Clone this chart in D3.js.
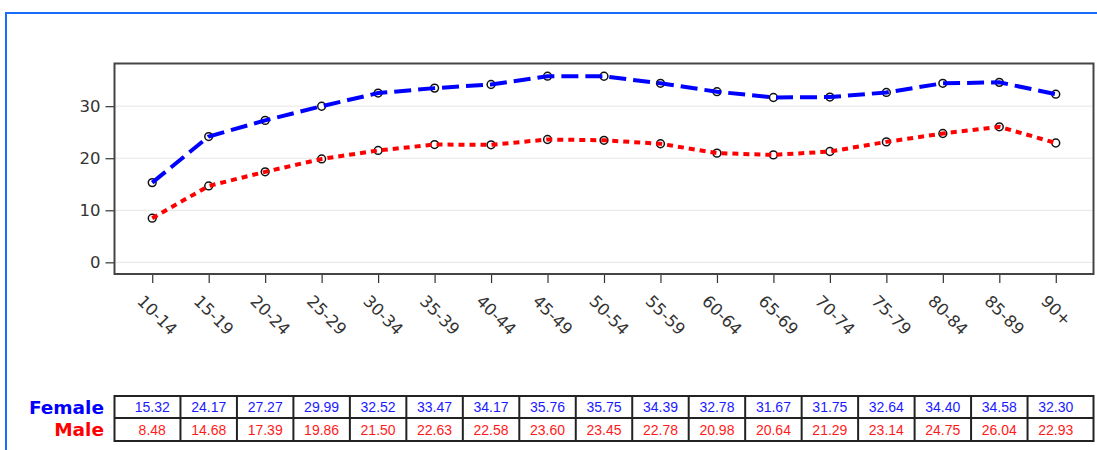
<!DOCTYPE html>
<html><head><meta charset="utf-8">
<script src="https://cdn.jsdelivr.net/npm/d3@7"></script>
<style>body{margin:0;background:#fff}svg{display:block}</style>
</head><body>
<svg id="c" width="1097" height="450"></svg>
<script>
const categories = ["10-14","15-19","20-24","25-29","30-34","35-39","40-44","45-49","50-54","55-59","60-64","65-69","70-74","75-79","80-84","85-89","90+"];
const female = [15.32,24.17,27.27,29.99,32.52,33.47,34.17,35.76,35.75,34.39,32.78,31.67,31.75,32.64,34.40,34.58,32.30];
const male = [8.48,14.68,17.39,19.86,21.50,22.63,22.58,23.60,23.45,22.78,20.98,20.64,21.29,23.14,24.75,26.04,22.93];
const yTicks = [0,10,20,30];
const seriesNames = ["Female","Male"];

const svg = d3.select("#c");
const L = 114.5, R = 1093.5, T = 63.5, B = 274;
const x = d3.scalePoint().domain(categories).range([L, R]).padding(0.668);
const y = d3.scaleLinear().domain([-2.24, 38.2]).range([B, T]);

// outer blue frame
svg.append("rect").attr("x",6).attr("y",13).attr("width",1200).attr("height",600)
  .attr("fill","none").attr("stroke","#1a6cff").attr("stroke-width",2);

// gridlines
svg.append("g").selectAll("line").data(yTicks).join("line")
  .attr("x1",L).attr("x2",R).attr("y1",d=>y(d)).attr("y2",d=>y(d))
  .attr("stroke","#e6e6e6").attr("stroke-width",1);

// y axis
const ya = svg.append("g").attr("transform",`translate(${L},0)`)
  .call(d3.axisLeft(y).tickValues(yTicks).tickSize(9).tickPadding(5));
ya.select(".domain").remove();
ya.selectAll("line").attr("stroke","#333").attr("stroke-width",1.2);
ya.selectAll("text").attr("font-family","DejaVu Sans, sans-serif").attr("font-size",16.5).attr("fill","#333");

// x axis
const xa = svg.append("g").attr("transform",`translate(0,${B})`)
  .call(d3.axisBottom(x).tickSize(9).tickPadding(0));
xa.select(".domain").remove();
xa.selectAll("line").attr("stroke","#333").attr("stroke-width",1.2);
xa.selectAll("text").attr("font-family","DejaVu Sans, sans-serif").attr("font-size",16.5).attr("fill","#333")
  .attr("text-anchor","start").attr("dy",0)
  .attr("transform","translate(-10,22) rotate(45)");

// plot frame
svg.append("rect").attr("x",L).attr("y",T).attr("width",R-L).attr("height",B-T)
  .attr("fill","none").attr("stroke","#444").attr("stroke-width",2);

const series = [
  {name:"Female", vals:female, color:"#0000ff", dash:"17,7"},
  {name:"Male", vals:male, color:"#ff0000", dash:"6,5"}
];
const line = d3.line().x((d,i)=>x(categories[i])).y(d=>y(d)).curve(d3.curveLinear);
series.forEach(s=>{
  const g = svg.append("g");
  g.selectAll("circle").data(s.vals).join("circle")
    .attr("cx",(d,i)=>x(categories[i])).attr("cy",d=>y(d)).attr("r",3.9)
    .attr("fill","#fff").attr("stroke","#111").attr("stroke-width",1.5);
  g.append("path").datum(s.vals).attr("d",line).attr("fill","none")
    .attr("stroke",s.color).attr("stroke-width",4).attr("stroke-dasharray",s.dash);
});

// data table
const tT = 396, tM = 418, tB = 441;
const step = x.step();
const bounds = [L].concat(categories.slice(0,-1).map(c=>x(c)+step/2)).concat([R]);
const tg = svg.append("g");
[["Female",female,"#1a1aff",tT,tM],["Male",male,"#ff1a1a",tM,tB]].forEach(([nm,vals,col,y0,y1])=>{
  tg.append("text").attr("x",104).attr("y",(y0+y1)/2+6.5).attr("text-anchor","end")
    .attr("font-family","DejaVu Sans, sans-serif").attr("font-weight","bold").attr("font-size",18.5)
    .attr("fill",nm==="Female"?"#0000ff":"#ff0000").text(nm);
  tg.selectAll(null).data(vals).join("text")
    .attr("x",(d,i)=>x(categories[i])).attr("y",(y0+y1)/2+5)
    .attr("text-anchor","middle").attr("font-family","Liberation Sans, Arial, sans-serif")
    .attr("font-size",14).attr("fill",col).text(d=>d.toFixed(2));
});
tg.append("rect").attr("x",L).attr("y",tT).attr("width",R-L).attr("height",tB-tT)
  .attr("fill","none").attr("stroke","#222").attr("stroke-width",2);
tg.append("line").attr("x1",L).attr("x2",R).attr("y1",tM).attr("y2",tM).attr("stroke","#222").attr("stroke-width",2);
tg.selectAll(null).data(bounds.slice(1,-1)).join("line")
  .attr("x1",d=>d).attr("x2",d=>d).attr("y1",tT).attr("y2",tB).attr("stroke","#222").attr("stroke-width",2);
</script>
</body></html>
